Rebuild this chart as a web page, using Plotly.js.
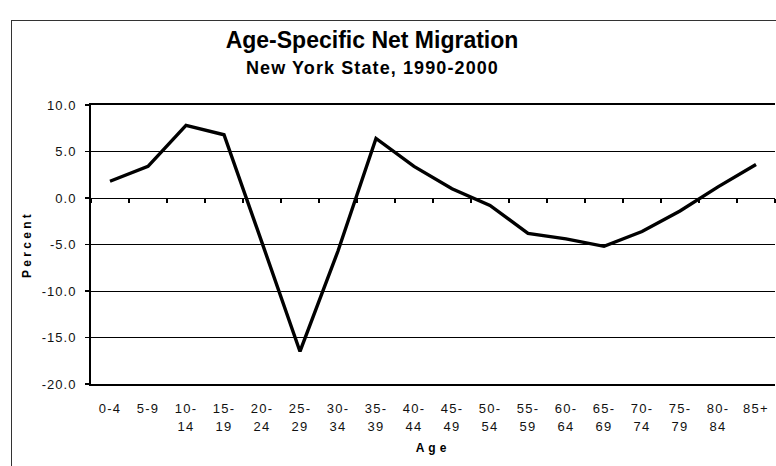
<!DOCTYPE html>
<html>
<head>
<meta charset="utf-8">
<script src="https://cdn.plot.ly/plotly-3.0.1.min.js"></script>
<style>
  html, body { margin: 0; padding: 0; background: #fff; overflow: hidden; }
  #wrap { position: relative; width: 776px; height: 466px; overflow: hidden; }
  #chart { width: 776px; height: 466px; }
  #frame { position: absolute; left: 11px; top: 20px; width: 900px; height: 600px;
           border-left: 1.5px solid #333; border-top: 1.5px solid #333; pointer-events: none; }
  .xtick text, .x3tick text { letter-spacing: 1.3px; }
  .ytick text { letter-spacing: 1px; }
  .ytitle { letter-spacing: 3.3px; }
  .x3title { letter-spacing: 4px; }
  .annotation-text { letter-spacing: 1.1px; }
</style>
</head>
<body>
<div id="wrap"><div id="chart"></div><div id="frame"></div></div>
<script>
// ---- data ----
const ages = ['0-4','5-9','10-14','15-19','20-24','25-29','30-34','35-39','40-44',
              '45-49','50-54','55-59','60-64','65-69','70-74','75-79','80-84','85+'];
const netMigration = [1.8, 3.4, 7.8, 6.8, -4.8, -16.5, -5.7, 6.4, 3.4,
                      1.0, -0.8, -3.8, -4.4, -5.2, -3.6, -1.4, 1.2, 3.6];
const ageLine1 = ['0-4','5-9','10-','15-','20-','25-','30-','35-','40-',
                  '45-','50-','55-','60-','65-','70-','75-','80-','85+'];
const ageLine2 = ['','','14','19','24','29','34','39','44',
                  '49','54','59','64','69','74','79','84',''];
const yTickVals = [-20, -15, -10, -5, 0, 5, 10];
const yTickText = ['-20.0','-15.0','-10.0','-5.0','0.0','5.0','10.0'];
const yMin = -20, yMax = 10;

const FONT = 'Liberation Sans, Arial, sans-serif';
const xRange = [-0.5, ages.length - 0.5];

const traces = [
  { x: ages, y: netMigration, type: 'scatter', mode: 'lines',
    line: { color: '#000', width: 3.4 }, hoverinfo: 'skip', showlegend: false },
  { x: ages, y: netMigration, xaxis: 'x2', type: 'scatter', mode: 'lines',
    line: { color: 'rgba(0,0,0,0)', width: 0 }, hoverinfo: 'skip', showlegend: false },
  { x: ages, y: netMigration, xaxis: 'x3', type: 'scatter', mode: 'lines',
    line: { color: 'rgba(0,0,0,0)', width: 0 }, hoverinfo: 'skip', showlegend: false }
];

const layout = {
  width: 776, height: 466,
  margin: { l: 91, r: 1, t: 105, b: 82 },
  paper_bgcolor: '#fff', plot_bgcolor: '#fff',
  showlegend: false,
  font: { family: FONT, color: '#000' },
  title: {
    text: '<b>Age-Specific Net Migration</b>',
    font: { family: FONT, size: 23, color: '#000' },
    xref: 'container', x: 372 / 776, xanchor: 'center',
    yref: 'container', y: 1 - 40 / 466, yanchor: 'middle'
  },
  annotations: [{
    text: '<b>New York State, 1990-2000</b>',
    xref: 'paper', yref: 'paper',
    x: (372 - 91) / 684, y: (384 - 68) / 279,
    xanchor: 'center', yanchor: 'middle', showarrow: false,
    font: { family: FONT, size: 18, color: '#000' }
  }],
  xaxis: {
    type: 'category', range: xRange, domain: [0, 1],
    tickmode: 'array', tickvals: ages, ticktext: ageLine1,
    ticks: '', showgrid: false, zeroline: false,
    showline: true, linecolor: '#000', linewidth: 2, mirror: true,
    tickfont: { family: FONT, size: 13, color: '#111' },
    ticklabelstandoff: 11, automargin: false
  },
  xaxis2: {
    type: 'category', range: xRange, overlaying: 'x',
    anchor: 'free', position: (0 - yMin) / (yMax - yMin),
    tickson: 'boundaries', ticks: 'outside', ticklen: 4, tickwidth: 1.5, tickcolor: '#000',
    showticklabels: false, showgrid: false, showline: false, zeroline: false
  },
  xaxis3: {
    type: 'category', range: xRange, overlaying: 'x', anchor: 'y', side: 'bottom',
    tickmode: 'array', tickvals: ages, ticktext: ageLine2,
    ticks: '', showgrid: false, showline: false, zeroline: false,
    tickfont: { family: FONT, size: 13, color: '#111' },
    ticklabelstandoff: 33, automargin: false,
    title: { text: '<b>Age</b>', font: { family: FONT, size: 12, color: '#000' }, standoff: 10 }
  },
  yaxis: {
    range: [yMin, yMax], domain: [0, 1],
    tickmode: 'array', tickvals: yTickVals, ticktext: yTickText,
    showgrid: true, gridcolor: '#000', gridwidth: 1, zeroline: false,
    showline: true, linecolor: '#000', linewidth: 2,
    ticks: 'outside', ticklen: 4, tickwidth: 1.5, tickcolor: '#000',
    tickfont: { family: FONT, size: 13, color: '#111' },
    ticklabelstandoff: 6, automargin: false,
    title: { text: '<b>Percent</b>', font: { family: FONT, size: 12, color: '#000' }, standoff: 8 }
  }
};

Plotly.newPlot('chart', traces, layout, { staticPlot: true, displayModeBar: false });
</script>
</body>
</html>
